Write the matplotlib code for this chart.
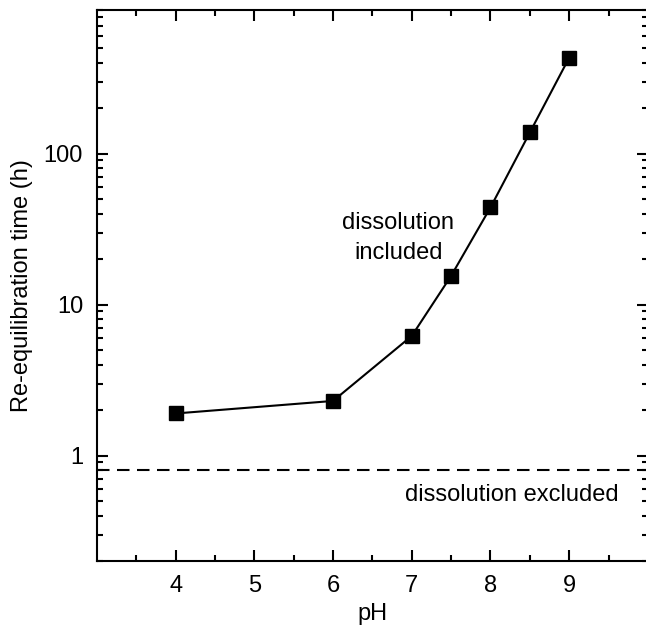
import numpy as np
import matplotlib
matplotlib.use("Agg")
import matplotlib.pyplot as plt
from matplotlib.ticker import FixedLocator, LogLocator, NullFormatter, FuncFormatter

plt.rcParams['font.family'] = ['Liberation Sans', 'DejaVu Sans']

# data
ph = [4, 6, 7, 7.5, 8, 8.5, 9]
time_h = [1.9, 2.3, 6.2, 15.5, 44, 138, 432]
excluded_level = 0.8
x_ticks = [4, 5, 6, 7, 8, 9]
y_ticks = [1, 10, 100]

fig = plt.figure(figsize=(6.46, 6.34), dpi=100)
ax = fig.add_axes([0.150, 0.115, 0.853, 0.870])

ax.plot(ph, time_h, color='black', lw=1.5, marker='s', ms=9.5,
        markerfacecolor='black', markeredgecolor='black')
ax.axhline(excluded_level, color='black', lw=1.5, dashes=(6, 3.6))

ax.set_yscale('log')
ax.set_xlim(3, 10)
ax.set_ylim(0.2, 900)

ax.xaxis.set_major_locator(FixedLocator(x_ticks))
ax.xaxis.set_minor_locator(FixedLocator(np.arange(3.5, 10, 1.0)))
ax.yaxis.set_major_locator(FixedLocator(y_ticks))
ax.yaxis.set_major_formatter(FuncFormatter(lambda v, p: f"{v:g}"))
ax.yaxis.set_minor_locator(LogLocator(base=10, subs=np.arange(2, 10)))
ax.yaxis.set_minor_formatter(NullFormatter())

ax.tick_params(which='both', direction='in', top=True, right=True,
               width=1.5, labelsize=17, pad=10)
ax.tick_params(which='major', length=8)
ax.tick_params(which='minor', length=4)
for s in ax.spines.values():
    s.set_linewidth(1.5)

ax.set_xlabel('pH', fontsize=17, labelpad=4)
ax.set_ylabel('Re-equilibration time (h)', fontsize=17, labelpad=8)

ax.text(6.83, 27.5, 'dissolution\nincluded', fontsize=17, ha='center',
        va='center', linespacing=1.5)
ax.text(6.92, 0.55, 'dissolution excluded', fontsize=17, ha='left',
        va='center')

fig.savefig('out.png', dpi=100)
